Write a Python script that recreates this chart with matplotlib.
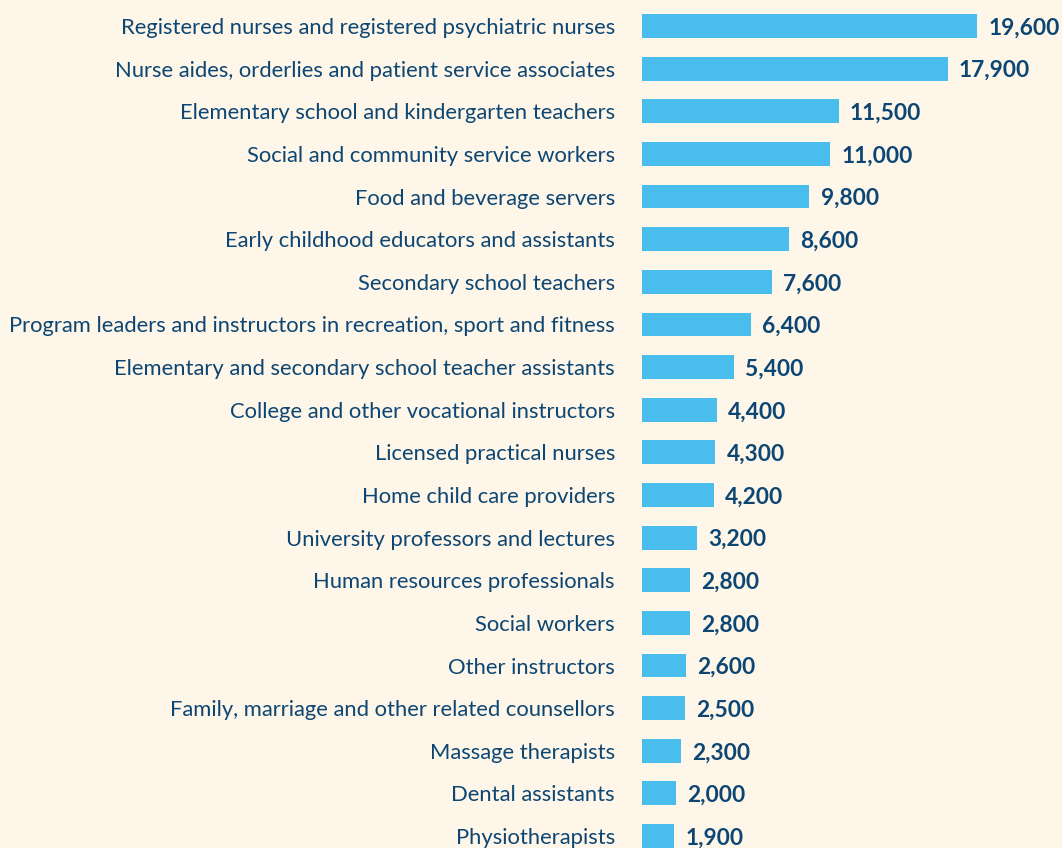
import matplotlib.pyplot as plt
from matplotlib.transforms import offset_copy

# occupations and counts, top to bottom
occupations = [
    'Registered nurses and registered psychiatric nurses',
    'Nurse aides, orderlies and patient service associates',
    'Elementary school and kindergarten teachers',
    'Social and community service workers',
    'Food and beverage servers',
    'Early childhood educators and assistants',
    'Secondary school teachers',
    'Program leaders and instructors in recreation, sport and fitness',
    'Elementary and secondary school teacher assistants',
    'College and other vocational instructors',
    'Licensed practical nurses',
    'Home child care providers',
    'University professors and lectures',
    'Human resources professionals',
    'Social workers',
    'Other instructors',
    'Family, marriage and other related counsellors',
    'Massage therapists',
    'Dental assistants',
    'Physiotherapists',
]
counts = [19600, 17900, 11500, 11000, 9800, 8600, 7600, 6400, 5400, 4400,
          4300, 4200, 3200, 2800, 2800, 2600, 2500, 2300, 2000, 1900]

bg = '#fdf6e9'
bar_color = '#49bdec'
text_color = '#0d4673'

plt.rcParams['font.family'] = ['Lato', 'DejaVu Sans']

fig = plt.figure(figsize=(10.62, 8.48), dpi=100, facecolor=bg)
ax = fig.add_axes([642 / 1062, 0, 1 - 642 / 1062, 1])
ax.set_facecolor(bg)

pos = list(range(len(counts)))
ax.barh(pos, counts, height=0.56, color=bar_color)

ax.set_xlim(0, 420 / 0.01709)
ax.set_ylim(19.28, -0.61)

ax.set_yticks(pos)
ax.set_yticklabels(occupations, fontsize=15.8, color=text_color)
ax.tick_params(axis='y', length=0, pad=19.5)
ax.set_xticks([])
for s in ax.spines.values():
    s.set_visible(False)

# value labels after each bar
tr = offset_copy(ax.transData, fig=fig, x=8, y=0, units='points')
for p, c in zip(pos, counts):
    ax.text(c, p, f'{c:,}', transform=tr, ha='left', va='center_baseline',
            fontsize=16.4, fontweight='bold', color=text_color)

fig.savefig('out.png', dpi=100, facecolor=bg)
